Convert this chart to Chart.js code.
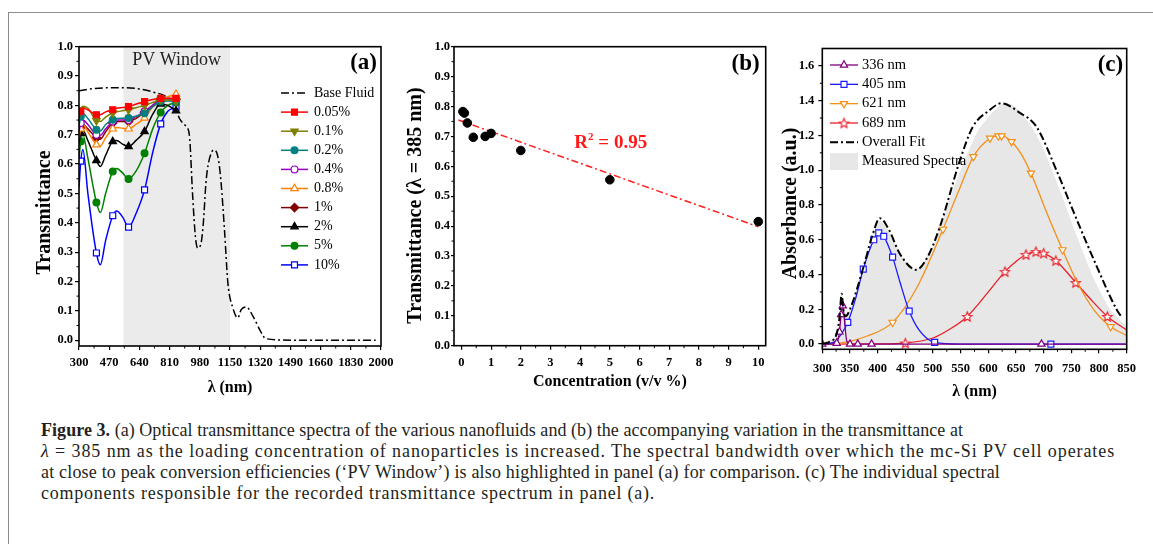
<!DOCTYPE html>
<html>
<head>
<meta charset="utf-8">
<title>Figure 3</title>
<script src="https://cdn.jsdelivr.net/npm/chart.js@4.4.1/dist/chart.umd.min.js"></script>
<style>
  html, body { margin: 0; padding: 0; background: #fff; }
  body { width: 1153px; height: 544px; position: relative; overflow: hidden; font-family: "Liberation Serif", "Times New Roman", serif; }
  .frame { position: absolute; left: 8px; top: 12px; width: 1160px; height: 560px; border-left: 1px solid #8c8c8c; border-top: 1px solid #8c8c8c; }
  .panel { position: absolute; top: 25px; }
  #panelA { left: 10px; }
  #panelB { left: 400px; }
  #panelC { left: 780px; }
  .caption { position: absolute; left: 41px; top: 420px; font-size: 18px; line-height: 21px; color: #231f20; white-space: nowrap; }
  .caption span { display: block; width: max-content; }
</style>
</head>
<body>
<div class="frame"></div>
<canvas id="panelA" class="panel" width="392" height="380"></canvas>
<canvas id="panelB" class="panel" width="375" height="380"></canvas>
<canvas id="panelC" class="panel" width="373" height="380"></canvas>
<div class="caption">
<span data-w="922"><b>Figure 3.</b> (a) Optical transmittance spectra of the various nanofluids and (b) the accompanying variation in the transmittance at</span>
<span data-w="1074"><i>λ</i> = 385 nm as the loading concentration of nanoparticles is increased. The spectral bandwidth over which the mc-Si PV cell operates</span>
<span data-w="959">at close to peak conversion efficiencies (‘PV Window’) is also highlighted in panel (a) for comparison. (c) The individual spectral</span>
<span data-w="614">components responsible for the recorded transmittance spectrum in panel (a).</span>
</div>

<script>
// ---- panel (a): transmittance spectra ----
const waveA = [300, 310, 322, 350, 398, 420, 450, 490, 512, 545, 579, 620, 669, 715, 760, 800, 846];
const markWaveA = [310, 398, 490, 579, 669, 760, 846];
const t005 = [0.755, 0.78, 0.79, 0.785, 0.768, 0.768, 0.778, 0.785, 0.79, 0.793, 0.796, 0.804, 0.813, 0.82, 0.824, 0.824, 0.824];
const t01 = [0.75, 0.785, 0.797, 0.79, 0.748, 0.745, 0.76, 0.774, 0.778, 0.782, 0.785, 0.792, 0.80, 0.81, 0.82, 0.818, 0.815];
const t02 = [0.73, 0.762, 0.772, 0.755, 0.717, 0.713, 0.735, 0.751, 0.755, 0.756, 0.757, 0.763, 0.773, 0.795, 0.813, 0.815, 0.813];
const t04 = [0.71, 0.74, 0.75, 0.735, 0.70, 0.698, 0.72, 0.745, 0.75, 0.75, 0.75, 0.762, 0.78, 0.80, 0.82, 0.822, 0.82];
const t08 = [0.69, 0.72, 0.735, 0.71, 0.666, 0.662, 0.69, 0.72, 0.725, 0.722, 0.72, 0.735, 0.757, 0.795, 0.82, 0.83, 0.838];
const t1 = [0.70, 0.725, 0.735, 0.72, 0.69, 0.685, 0.71, 0.74, 0.745, 0.745, 0.745, 0.755, 0.777, 0.80, 0.82, 0.822, 0.82];
const t2 = [0.67, 0.705, 0.715, 0.68, 0.612, 0.592, 0.63, 0.677, 0.68, 0.668, 0.66, 0.68, 0.711, 0.77, 0.805, 0.80, 0.782];
const t5 = [0.62, 0.677, 0.70, 0.62, 0.469, 0.435, 0.50, 0.575, 0.585, 0.57, 0.549, 0.575, 0.637, 0.72, 0.776, 0.80, 0.81];
const t10 = [0.52, 0.61, 0.65, 0.50, 0.297, 0.257, 0.34, 0.424, 0.44, 0.42, 0.385, 0.43, 0.512, 0.64, 0.737, 0.78, 0.794];
const baseWave = [300, 380, 470, 560, 640, 720, 790, 840, 865, 903, 921, 940, 955, 968, 987, 1000, 1016, 1044, 1063, 1085, 1100, 1119, 1138, 1166, 1194, 1213, 1242, 1279, 1317, 1351, 1500, 1700, 1970];
const baseFluid = [0.85, 0.857, 0.86, 0.86, 0.856, 0.845, 0.83, 0.8, 0.756, 0.728, 0.70, 0.49, 0.354, 0.314, 0.33, 0.4, 0.546, 0.637, 0.648, 0.615, 0.535, 0.375, 0.195, 0.11, 0.076, 0.104, 0.113, 0.082, 0.036, 0.005, 0, 0, 0];
const pvWindow = [550, 1150];
const ticksAx = [300, 470, 640, 810, 980, 1150, 1320, 1490, 1660, 1830, 2000];
const ticksAy = [0, 0.1, 0.2, 0.3, 0.4, 0.5, 0.6, 0.7, 0.8, 0.9, 1.0];

// ---- panel (b): transmittance at 385 nm vs concentration ----
const concB = [0.05, 0.1, 0.2, 0.4, 0.8, 1, 2, 5, 10];
const transB = [0.783, 0.778, 0.745, 0.697, 0.70, 0.71, 0.653, 0.555, 0.415];
const fitX = [-0.1, 10];
const fitY = [0.755, 0.398];
const ticksBx = [0, 1, 2, 3, 4, 5, 6, 7, 8, 9, 10];
const ticksBy = [0, 0.1, 0.2, 0.3, 0.4, 0.5, 0.6, 0.7, 0.8, 0.9, 1.0];

// ---- panel (c): absorbance components ----
const c336X = [300, 315, 326, 331, 334, 337, 340, 344, 350, 364, 389, 500, 696, 850];
const c336Y = [0, 0, 0.005, 0.07, 0.17, 0.22, 0.14, 0.02, 0, 0, 0, 0, 0, 0];
const mark336 = [300, 326, 331, 334, 337, 350, 364, 389, 696];
const c405X = [300, 320, 335, 346, 360, 374, 393, 402, 411, 427, 440, 457, 475, 503, 550, 713, 850];
const c405Y = [0, 0.01, 0.06, 0.125, 0.26, 0.431, 0.6, 0.64, 0.62, 0.5, 0.36, 0.19, 0.08, 0.01, 0, 0, 0];
const mark405 = [346, 374, 393, 402, 411, 427, 457, 503, 713];
const c621X = [300, 340, 380, 427, 470, 518, 545, 573, 603, 618, 624, 642, 660, 677, 705, 734, 760, 790, 821, 850];
const c621Y = [0, 0.01, 0.045, 0.125, 0.32, 0.66, 0.87, 1.078, 1.184, 1.197, 1.197, 1.164, 1.09, 0.983, 0.76, 0.542, 0.36, 0.2, 0.1, 0.05];
const mark621 = [427, 518, 573, 603, 618, 624, 642, 677, 734, 821];
const c689X = [300, 400, 450, 500, 530, 562, 600, 630, 650, 668, 686, 700, 722, 740, 758, 790, 815, 850];
const c689Y = [0, 0.001, 0.006, 0.035, 0.085, 0.159, 0.3, 0.417, 0.475, 0.515, 0.532, 0.523, 0.48, 0.42, 0.354, 0.24, 0.159, 0.08];
const mark689 = [450, 562, 630, 668, 686, 700, 722, 758, 815];
const overallX = [300, 314, 326, 331, 335, 338, 342, 350, 375, 390, 404, 420, 440, 470, 490, 512, 549, 572, 600, 624, 657, 687, 723, 760, 796, 832, 840];
const overallY = [0, 0.015, 0.06, 0.15, 0.29, 0.2, 0.16, 0.2, 0.45, 0.62, 0.724, 0.66, 0.52, 0.427, 0.5, 0.67, 1.06, 1.25, 1.34, 1.385, 1.33, 1.25, 1.0, 0.714, 0.446, 0.197, 0.159];
const measuredX = [300, 320, 330, 336, 341, 350, 375, 395, 405, 420, 445, 470, 500, 540, 580, 610, 630, 650, 680, 700, 730, 760, 790, 820, 850];
const measuredY = [0.01, 0.03, 0.1, 0.28, 0.17, 0.2, 0.44, 0.66, 0.71, 0.65, 0.5, 0.43, 0.56, 0.92, 1.22, 1.34, 1.39, 1.36, 1.24, 1.12, 0.88, 0.62, 0.38, 0.2, 0.1];
const ticksCx = [300, 350, 400, 450, 500, 550, 600, 650, 700, 750, 800, 850];
const ticksCy = [0, 0.2, 0.4, 0.6, 0.8, 1.0, 1.2, 1.4, 1.6];

const SERIF = '"Liberation Serif", "Times New Roman", serif';
Chart.defaults.font.family = SERIF;
Chart.defaults.color = '#000';
Chart.defaults.animation = false;
Chart.defaults.plugins.legend.display = false;
Chart.defaults.plugins.tooltip.enabled = false;

// stretch each caption line to the width it has in the printed figure
document.querySelectorAll('.caption span').forEach(line => {
    const chars = line.textContent.length;
    const extra = (Number(line.dataset.w) - line.getBoundingClientRect().width) / chars;
    line.style.letterSpacing = extra.toFixed(3) + 'px';
});

const toPoints = (xs, ys) => xs.map((x, i) => ({ x: x, y: ys[i] }));

// open five-point star used as marker for the 689 nm component
function starImage(color, r) {
    const c = document.createElement('canvas');
    const size = Math.ceil(r * 2 + 3);
    c.width = size; c.height = size;
    const g = c.getContext('2d');
    g.translate(size / 2, size / 2 + 0.5);
    g.beginPath();
    for (let i = 0; i < 10; i++) {
        const rad = i % 2 === 0 ? r : r * 0.45;
        const a = -Math.PI / 2 + i * Math.PI / 5;
        g.lineTo(Math.cos(a) * rad, Math.sin(a) * rad);
    }
    g.closePath();
    g.fillStyle = '#fff'; g.fill();
    g.strokeStyle = color; g.lineWidth = 1.1; g.stroke();
    return c;
}

function drawMarker(ctx, ds, x, y) {
    ctx.save();
    ctx.fillStyle = ds.pointBackgroundColor;
    ctx.strokeStyle = ds.pointBorderColor;
    ctx.lineWidth = ds.pointBorderWidth;
    ctx.setLineDash([]);
    Chart.helpers.drawPoint(ctx, {
        pointStyle: ds.pointStyle, rotation: ds.pointRotation || 0,
        radius: ds.markR, borderWidth: ds.pointBorderWidth
    }, x, y);
    ctx.restore();
}

// full box around the plot, plus short minor ticks half way between major ones
const frameBox = {
    id: 'frameBox',
    afterDraw(chart) {
        const { ctx, chartArea: a } = chart;
        ctx.save();
        ctx.strokeStyle = '#000';
        ctx.lineWidth = 1;
        ['x', 'y'].forEach(id => {
            const sc = chart.scales[id];
            const vals = sc.ticks.map(t => t.value);
            for (let i = 0; i + 1 < vals.length; i++) {
                const p = sc.getPixelForValue((vals[i] + vals[i + 1]) / 2);
                ctx.beginPath();
                if (id === 'x') { ctx.moveTo(p, a.bottom); ctx.lineTo(p, a.bottom + 2.5); }
                else { ctx.moveTo(a.left, p); ctx.lineTo(a.left - 2.5, p); }
                ctx.stroke();
            }
        });
        ctx.lineWidth = 1.6;
        ctx.strokeRect(a.left, a.top, a.right - a.left, a.bottom - a.top);
        ctx.restore();
    }
};

// shaded PV window in panel (a)
const bandShade = {
    id: 'bandShade',
    beforeDatasetsDraw(chart, args, opts) {
        if (!opts.range) return;
        const { ctx, chartArea: a, scales } = chart;
        const x1 = scales.x.getPixelForValue(opts.range[0]);
        const x2 = scales.x.getPixelForValue(opts.range[1]);
        ctx.save();
        ctx.fillStyle = opts.color;
        ctx.fillRect(x1, a.top, x2 - x1, a.bottom - a.top);
        ctx.restore();
    }
};

// line + marker legend placed inside the plot
const sideLegend = {
    id: 'sideLegend',
    afterDraw(chart, args, opts) {
        if (!opts.x) return;
        const ctx = chart.ctx;
        let y = opts.y;
        chart.data.datasets.forEach(ds => {
            if (ds.legendSkip) return;
            ctx.save();
            if (ds.fill) {
                ctx.fillStyle = ds.backgroundColor;
                ctx.fillRect(opts.x, y - opts.boxH / 2, opts.lineLen, opts.boxH);
            } else {
                ctx.strokeStyle = ds.borderColor;
                ctx.lineWidth = ds.borderWidth;
                ctx.setLineDash(ds.borderDash || []);
                ctx.beginPath();
                ctx.moveTo(opts.x, y);
                ctx.lineTo(opts.x + opts.lineLen, y);
                ctx.stroke();
                if (ds.markR) drawMarker(ctx, ds, opts.x + opts.lineLen / 2, y);
            }
            ctx.fillStyle = '#000';
            ctx.font = opts.font;
            ctx.textBaseline = 'middle';
            ctx.textAlign = 'left';
            ctx.fillText(ds.label, opts.x + opts.lineLen + opts.gap, y);
            ctx.restore();
            y += opts.step;
        });
    }
};

// panel labels, annotations and the rotated y titles
const panelText = {
    id: 'panelText',
    afterDraw(chart, args, opts) {
        const { ctx, chartArea: a, scales } = chart;
        (opts.items || []).forEach(t => {
            ctx.save();
            ctx.fillStyle = t.color || '#000';
            ctx.textBaseline = 'middle';
            let x, y;
            if (t.corner) { x = a.right - t.dx; y = a.top + t.dy; }
            else if (t.data) { x = scales.x.getPixelForValue(t.x); y = scales.y.getPixelForValue(t.y); }
            else { x = t.x; y = t.y; }
            ctx.translate(x, y);
            if (t.rotate) ctx.rotate(-Math.PI / 2);
            const parts = t.parts || [{ text: t.text, font: t.font }];
            let total = 0;
            parts.forEach(p => { ctx.font = p.font; total += ctx.measureText(p.text).width; });
            let cx = t.align === 'right' ? -total : -total / 2;
            ctx.textAlign = 'left';
            parts.forEach(p => {
                ctx.font = p.font;
                ctx.fillText(p.text, cx, p.rise ? -p.rise : 0);
                cx += ctx.measureText(p.text).width;
            });
            ctx.restore();
        });
    }
};

function axis(o) {
    return {
        type: 'linear',
        min: o.min, max: o.max,
        afterBuildTicks: s => { s.ticks = o.ticks.map(v => ({ value: v })); },
        afterFit: s => { if (o.width) s.width = o.width; if (o.height) s.height = o.height; },
        grid: { drawOnChartArea: false, drawTicks: true, tickLength: o.tickLength || 4, color: '#000', lineWidth: 1.2 },
        border: { display: false },
        ticks: { autoSkip: false, maxRotation: 0, minRotation: 0, padding: o.pad, color: '#000',
                 font: { size: 12.5, weight: 'bold' }, callback: o.fmt },
        title: o.title ? { display: true, text: o.title, color: '#000',
                 font: { size: 16, weight: 'bold', lineHeight: 1 }, padding: { top: 0, bottom: o.titlePad } } : { display: false }
    };
}

const fmt1 = v => v.toFixed(1);
const fmt0 = v => String(v);

// ---------- panel (a) ----------
const seriesA = [
    ['0.05%', t005, '#ff0000', 'rect', 0, false],
    ['0.1%', t01, '#808000', 'triangle', 180, false],
    ['0.2%', t02, '#008080', 'circle', 0, false],
    ['0.4%', t04, '#9a00c0', 'circle', 0, true],
    ['0.8%', t08, '#ff8000', 'triangle', 0, true],
    ['1%', t1, '#800000', 'rectRot', 0, false],
    ['2%', t2, '#000000', 'triangle', 0, false],
    ['5%', t5, '#008000', 'circle', 0, false],
    ['10%', t10, '#0000ff', 'rect', 0, true]
];
const radiusA = { rect: 4.2, triangle: 4.3, circle: 3.4, rectRot: 4.2 };
const datasetsA = [{
    label: 'Base Fluid', data: toPoints(baseWave, baseFluid), order: 1,
    borderColor: '#000', borderWidth: 1.5, borderDash: [8, 3, 2, 3],
    cubicInterpolationMode: 'monotone', pointRadius: 0, fill: false
}].concat(seriesA.map(s => ({
    label: s[0], data: toPoints(waveA, s[1]), order: 0,
    borderColor: s[2], borderWidth: 1.5, cubicInterpolationMode: 'monotone', fill: false,
    pointStyle: s[3], pointRotation: s[4],
    pointBackgroundColor: s[5] ? '#fff' : s[2], pointBorderColor: s[2], pointBorderWidth: 1.2,
    pointRadius: ctx => (ctx.raw && markWaveA.includes(ctx.raw.x)) ? radiusA[s[3]] : 0,
    markR: radiusA[s[3]]
})));

new Chart(document.getElementById('panelA'), {
    type: 'line',
    data: { datasets: datasetsA },
    options: {
        responsive: false,
        layout: { padding: { top: 21.7, right: 21, bottom: 0, left: 0 } },
        scales: {
            x: axis({ min: 300, max: 2000, ticks: ticksAx, fmt: fmt0, height: 59, pad: 5.5, title: 'λ (nm)', titlePad: 9 }),
            y: axis({ min: -0.02, max: 1.0, ticks: ticksAy, fmt: fmt1, width: 69, pad: 2 })
        },
        plugins: {
            bandShade: { range: pvWindow, color: '#ebebeb' },
            sideLegend: { x: 271, y: 68, step: 19.1, lineLen: 27, gap: 6, font: '14px ' + SERIF },
            panelText: { items: [
                { data: true, x: 850, y: 0.955, text: 'PV Window', font: '18px ' + SERIF, color: '#222' },
                { corner: true, dx: 4, dy: 16, align: 'right', text: '(a)', font: 'bold 23px ' + SERIF },
                { x: 35, y: 187.5, rotate: true, text: 'Transmittance', font: 'bold 20px ' + SERIF }
            ] }
        }
    },
    plugins: [bandShade, frameBox, sideLegend, panelText]
});

// ---------- panel (b) ----------
new Chart(document.getElementById('panelB'), {
    type: 'scatter',
    data: { datasets: [
        { label: 'data', data: toPoints(concB, transB), pointRadius: 4.3, pointBackgroundColor: '#000', pointBorderColor: '#000', order: 0 },
        { label: 'fit', data: toPoints(fitX, fitY), showLine: true, pointRadius: 0, borderColor: '#ff2020',
          borderWidth: 1.5, borderDash: [7, 3, 2, 3], order: 1 }
    ] },
    options: {
        responsive: false,
        layout: { padding: { top: 21.7, right: 9.3, bottom: 0, left: 0 } },
        scales: {
            x: axis({ min: -0.25, max: 10.25, ticks: ticksBx, fmt: fmt0, height: 59.3, pad: 6, title: 'Concentration (v/v %)', titlePad: 15 }),
            y: axis({ min: 0, max: 1.0, ticks: ticksBy, fmt: fmt1, width: 54, pad: 1, tickLength: 3 })
        },
        plugins: {
            panelText: { items: [
                { corner: true, dx: 6, dy: 17, align: 'right', text: '(b)', font: 'bold 23px ' + SERIF },
                { data: true, x: 5.03, y: 0.678, color: '#ff1a1a', parts: [
                    { text: 'R', font: 'bold 19px ' + SERIF },
                    { text: '2', font: 'bold 11px ' + SERIF, rise: 6 },
                    { text: ' = 0.95', font: 'bold 19px ' + SERIF }
                ] },
                { x: 16, y: 180.5, rotate: true, text: 'Transmittance (λ = 385 nm)', font: 'bold 20px ' + SERIF }
            ] }
        }
    },
    plugins: [frameBox, panelText]
});

// ---------- panel (c) ----------
function component(label, xs, ys, marks, color, style, rot) {
    return {
        label: label, data: toPoints(xs, ys), order: 1,
        borderColor: color, borderWidth: 1.3, cubicInterpolationMode: 'monotone', fill: false,
        pointStyle: style, pointRotation: rot || 0,
        pointBackgroundColor: '#fff', pointBorderColor: color, pointBorderWidth: 1.2,
        pointRadius: ctx => (ctx.raw && marks.includes(ctx.raw.x)) ? 4.2 : 0,
        markR: 4.2
    };
}
const starRed = starImage('#e8202a', 5);
new Chart(document.getElementById('panelC'), {
    type: 'line',
    data: { datasets: [
        component('336 nm', c336X, c336Y, mark336, '#800080', 'triangle'),
        component('405 nm', c405X, c405Y, mark405, '#1a1aff', 'rect'),
        component('621 nm', c621X, c621Y, mark621, '#f39019', 'triangle', 180),
        component('689 nm', c689X, c689Y, mark689, '#e8202a', starRed),
        { label: 'Overall Fit', data: toPoints(overallX, overallY), order: 0,
          borderColor: '#000', borderWidth: 2, borderDash: [8, 3, 2, 3],
          cubicInterpolationMode: 'monotone', pointRadius: 0, fill: false },
        { label: 'Measured Spectra', data: toPoints(measuredX, measuredY), order: 3,
          borderWidth: 0, borderColor: 'rgba(0,0,0,0)', backgroundColor: '#e7e7e7',
          fill: 'origin', pointRadius: 0, tension: 0.2 }
    ] },
    options: {
        responsive: false,
        layout: { padding: { top: 23.5, right: 26.3, bottom: 0, left: 0 } },
        scales: {
            x: axis({ min: 300, max: 850, ticks: ticksCx, fmt: fmt0, height: 55.7, pad: 7.5, title: 'λ (nm)', titlePad: 5.3 }),
            y: axis({ min: -0.03, max: 1.7, ticks: ticksCy, fmt: fmt1, width: 42.3, pad: 4 })
        },
        plugins: {
            sideLegend: { x: 50, y: 40, step: 19.33, lineLen: 28, gap: 4, boxH: 17, font: '14.5px ' + SERIF },
            panelText: { items: [
                { corner: true, dx: 3.5, dy: 16.5, align: 'right', text: '(c)', font: 'bold 23px ' + SERIF },
                { x: 11, y: 178.5, rotate: true, text: 'Absorbance (a.u.)', font: 'bold 20px ' + SERIF }
            ] }
        }
    },
    plugins: [frameBox, sideLegend, panelText]
});
</script>
</body>
</html>
